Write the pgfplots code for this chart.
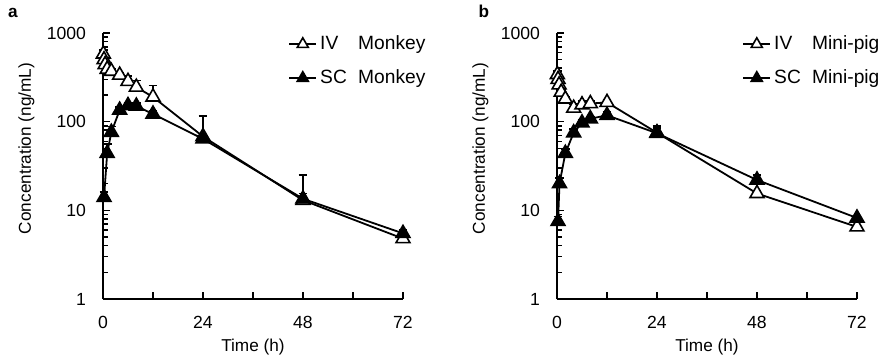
\documentclass[border=0pt]{standalone}
\usepackage{pgfplots}
\pgfplotsset{compat=1.18}
\usepackage{fontspec}
\setmainfont{Liberation Sans}
\newcommand{\fs}{\fontsize{8.6}{10.3}\selectfont}
\newcommand{\ft}{\fontsize{8.8}{10.5}\selectfont}
\newcommand{\fl}{\fontsize{9.6}{11.5}\selectfont}
\pgfplotsset{
  myser/.style={black, line width=0.9pt, mark=triangle*, mark size=4pt,
    mark options={solid, line width=0.8pt, fill=#1},
    error bars/y dir=plus, error bars/y explicit,
    error bars/error bar style={line width=0.8pt, black},
    error bars/error mark options={rotate=90, mark size=2.2pt, line width=0.8pt}},
}
\pgfplotstableread{
t y e
0.083 580 60
0.25 500 40
0.5 440 30
1 390 30
2 370 20
4 335 20
6 285 40
8 245 45
12 190 65
24 68 47
48 13 12
72 4.8 0.4
}\ivmonkey
\pgfplotstableread{
t y e
0.25 14 2
1 44 12
2 76 12
4 135 12
6 152 12
8 150 12
12 122 10
24 64 5
48 13.5 2
72 5.5 0.5
}\scmonkey
\pgfplotstableread{
t y e
0.083 340 30
0.25 300 25
0.5 260 20
1 215 15
2 180 10
4 142 15
6 155 15
8 160 10
12 165 10
24 75 10
48 15.5 1
72 6.5 0.4
}\ivpig
\pgfplotstableread{
t y e
0.25 7.5 1
0.6 20 3
2 44 5
4 75 8
6 97 8
8 108 5
12 118 10
24 74 15
48 22 3
72 8.2 0.5
}\scpig
\begin{document}
\begin{tikzpicture}
\useasboundingbox (0pt,0pt) rectangle (442.5pt,180.5pt);
\node[font=\bfseries\fs] at (6.5pt,174pt) {a};
\node[font=\bfseries\fs] at (242pt,175pt) {b};
\begin{axis}[ymode=log,
    at={(51.5pt,31pt)}, anchor=south west,
    width=150pt, height=133pt, scale only axis,
    ymin=1, ymax=1000, xmin=0, xmax=72,
    axis x line*=bottom, axis y line*=left,
    axis line style={line width=1pt},
    xtick={0,12,...,72}, xticklabels={0,,24,,48,,72},
    ytick={1,10,100,1000}, yticklabels={1,10,100,1000},
    tick align=inside,
    major tick length=3.5pt, minor tick length=2.5pt,
    tick style={black, line width=0.8pt},
    ticklabel style={font=\ft},
    xticklabel style={yshift=-5pt},
    yticklabel style={xshift=-5pt},
    xlabel={Time (h)}, ylabel={Concentration (ng/mL)},
    xlabel style={font=\fs, at={(axis description cs:0.5,-0.18)}, anchor=center},
    ylabel style={font=\fs, at={(axis description cs:-0.255,0.566)}, anchor=center},
    legend style={draw=none, fill=none, at={(0.61,1.01)}, anchor=north west,
      font=\fl, row sep=5.5pt, inner sep=1pt, nodes={inner sep=1.5pt}},
    legend cell align=left,
    legend image code/.code={\draw[mark repeat=2,mark phase=2,mark size=3.2pt]
      plot coordinates {(0pt,0pt)(6.75pt,0pt)(13.5pt,0pt)};},
    clip=false]
\addplot[myser=white] table[x=t,y=y,y error=e] {\ivmonkey};
\addlegendentry{\makebox[1.98em][l]{IV}Monkey}
\addplot[myser=black] table[x=t,y=y,y error=e] {\scmonkey};
\addlegendentry{\makebox[1.98em][l]{SC}Monkey}
\end{axis}
\begin{axis}[ymode=log,
    at={(278.5pt,31pt)}, anchor=south west,
    width=150pt, height=133pt, scale only axis,
    ymin=1, ymax=1000, xmin=0, xmax=72,
    axis x line*=bottom, axis y line*=left,
    axis line style={line width=1pt},
    xtick={0,12,...,72}, xticklabels={0,,24,,48,,72},
    ytick={1,10,100,1000}, yticklabels={1,10,100,1000},
    tick align=inside,
    major tick length=3.5pt, minor tick length=2.5pt,
    tick style={black, line width=0.8pt},
    ticklabel style={font=\ft},
    xticklabel style={yshift=-5pt},
    yticklabel style={xshift=-5pt},
    xlabel={Time (h)}, ylabel={Concentration (ng/mL)},
    xlabel style={font=\fs, at={(axis description cs:0.5,-0.18)}, anchor=center},
    ylabel style={font=\fs, at={(axis description cs:-0.255,0.566)}, anchor=center},
    legend style={draw=none, fill=none, at={(0.61,1.01)}, anchor=north west,
      font=\fl, row sep=5.5pt, inner sep=1pt, nodes={inner sep=1.5pt}},
    legend cell align=left,
    legend image code/.code={\draw[mark repeat=2,mark phase=2,mark size=3.2pt]
      plot coordinates {(0pt,0pt)(6.75pt,0pt)(13.5pt,0pt)};},
    clip=false]
\addplot[myser=white] table[x=t,y=y,y error=e] {\ivpig};
\addlegendentry{\makebox[1.98em][l]{IV}Mini-pig}
\addplot[myser=black] table[x=t,y=y,y error=e] {\scpig};
\addlegendentry{\makebox[1.98em][l]{SC}Mini-pig}
\end{axis}
\end{tikzpicture}
\end{document}
